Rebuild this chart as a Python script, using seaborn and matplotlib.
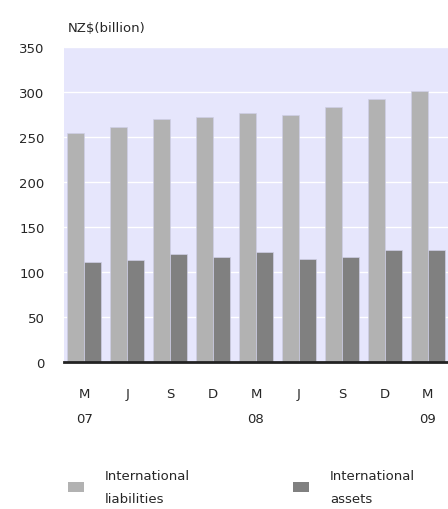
import pandas as pd
import numpy as np
import matplotlib.pyplot as plt
import seaborn as sns
from matplotlib.patches import Patch

quarters = ["M\n07", "J\n", "S\n", "D\n", "M\n08", "J\n ", "S\n ", "D\n ", "M\n09"]
liabilities = [254, 261, 270, 272, 277, 274, 283, 292, 301]
assets = [111, 113, 120, 117, 122, 115, 117, 124, 124]
series = ["International\nliabilities", "International\nassets"]
colors = ["#b2b2b2", "#808080"]

df = pd.DataFrame({
    "quarter": quarters * 2,
    "value": liabilities + assets,
    "series": [series[0]] * len(quarters) + [series[1]] * len(quarters),
})

sns.set_style("white")
plt.rcParams["font.family"] = ["DejaVu Sans"]

fig = plt.figure(figsize=(4.48, 5.10), dpi=100)
ax = fig.add_axes([64 / 448, 1 - 363 / 510, 1 - 64 / 448, 315 / 510])
ax.set_facecolor("#e6e6fc")

sns.barplot(data=df, x="quarter", y="value", hue="series", palette=colors,
            width=0.8, ax=ax, legend=False, edgecolor="#cfcfe6", linewidth=0.5, zorder=3)

ax.set_ylim(0, 348)
ax.set_xlim(-0.47, 8.47)
ax.set_yticks(range(0, 351, 50))
ax.yaxis.grid(True, color="white", linewidth=1.0, zorder=0)
ax.set_axisbelow(True)
ax.set_xlabel("")
ax.set_ylabel("")
for s in ["top", "right", "left"]:
    ax.spines[s].set_visible(False)
ax.spines["bottom"].set_color("#222222")
ax.spines["bottom"].set_linewidth(2)
ax.spines["bottom"].set_zorder(5)

ax.tick_params(axis="y", length=0, pad=14, labelsize=9.5)
ax.tick_params(axis="x", length=0, pad=18, labelsize=9.5)
for t in ax.get_xticklabels():
    t.set_linespacing(2.2)
    t.set_va("top")

fig.text(68 / 448, 1 - 28 / 510, "NZ$(billion)", fontsize=9.5, va="center", ha="left")

handles = [Patch(facecolor=c, edgecolor="none") for c in colors]
leg = fig.legend(handles, series, loc="center left", ncol=2,
                 bbox_to_anchor=(56 / 448, 1 - 488 / 510), frameon=False,
                 fontsize=9.5, handlelength=1.2, handleheight=0.8,
                 handletextpad=1.6, columnspacing=7.8)
for t in leg.get_texts():
    t.set_linespacing(2.0)

fig.savefig("out.png", dpi=100)
